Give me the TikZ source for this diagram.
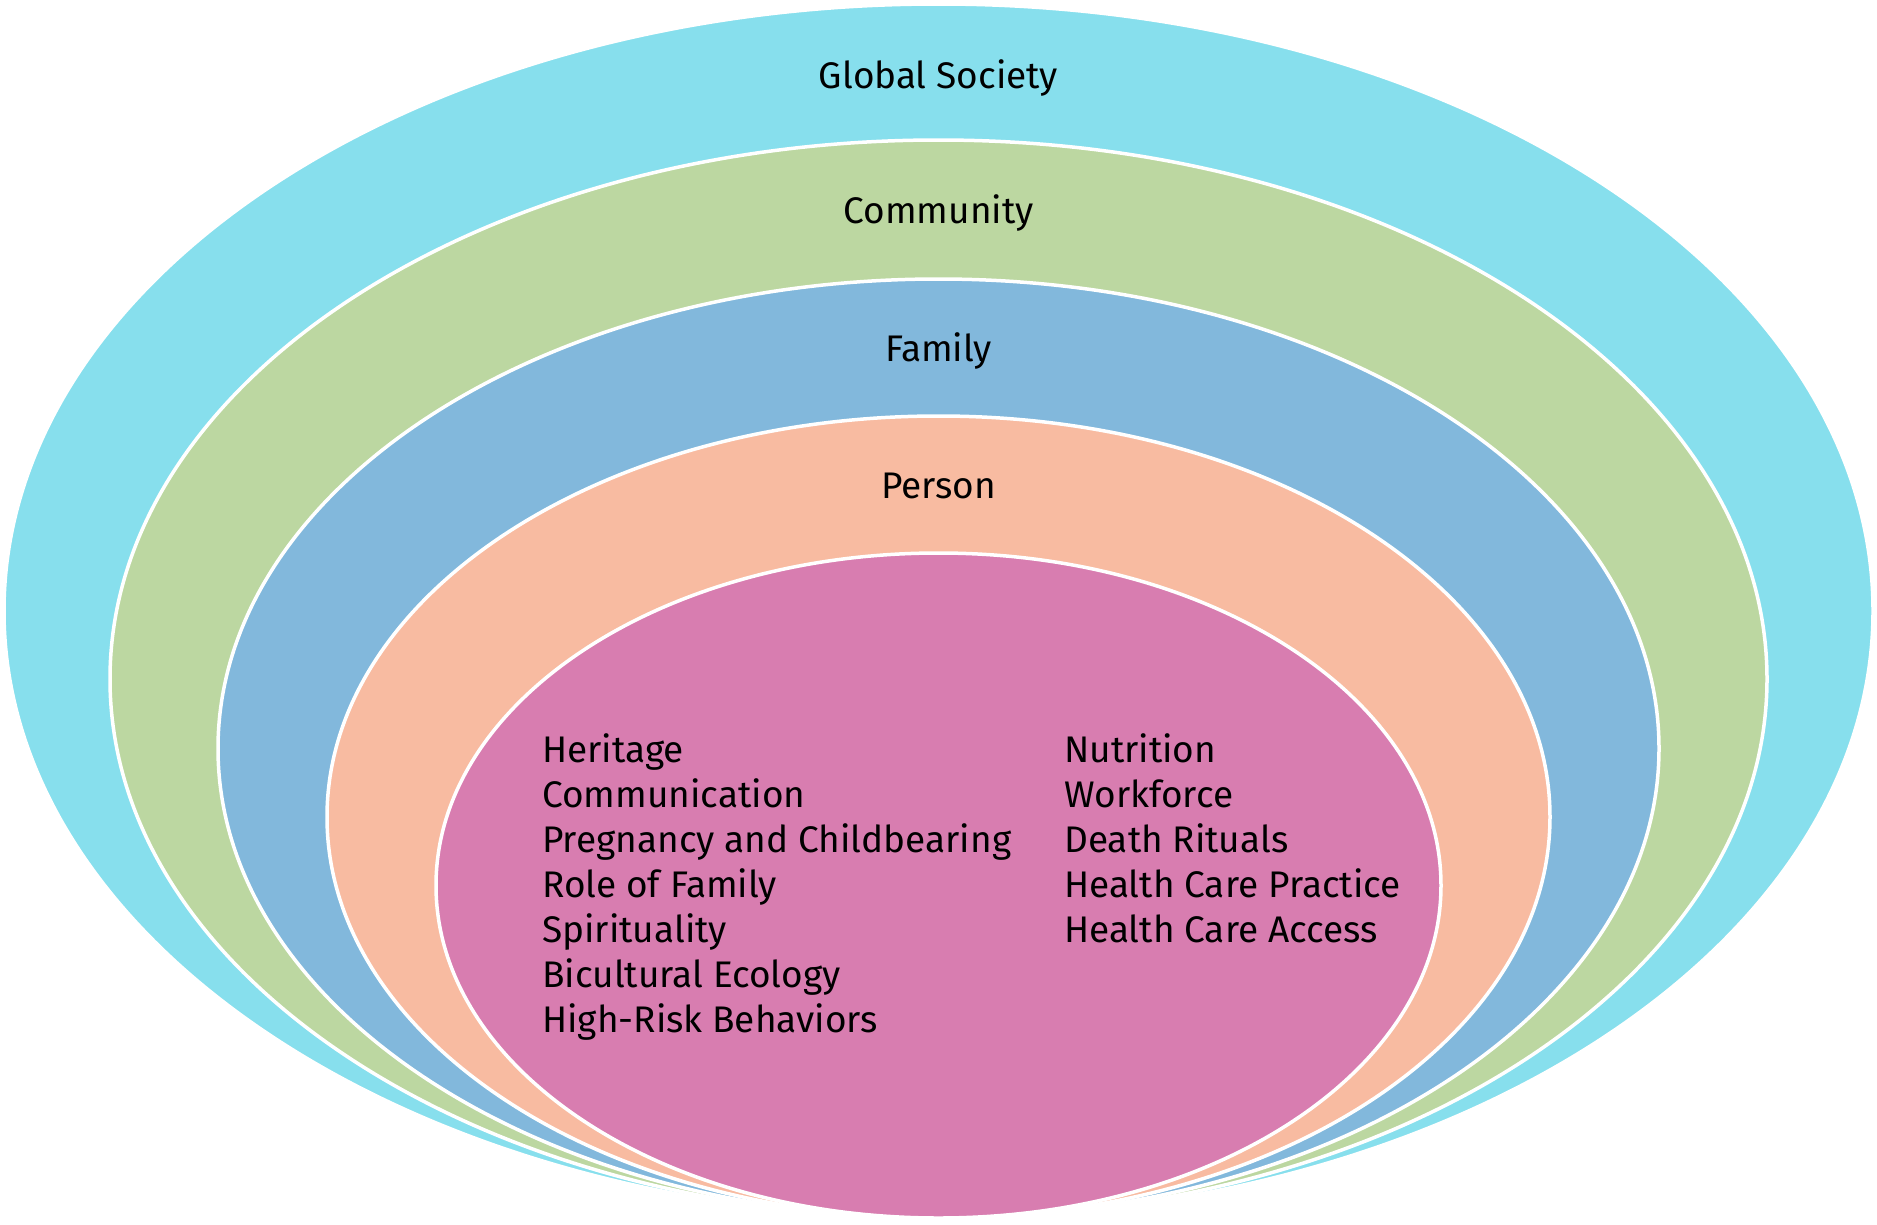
\documentclass[tikz,border=0pt]{standalone}
\usepackage{fontspec}
\setmainfont{Fira Sans}
\definecolor{cglobal}{RGB}{135,223,237}
\definecolor{ccomm}{RGB}{188,215,161}
\definecolor{cfam}{RGB}{130,184,220}
\definecolor{cpers}{RGB}{248,187,161}
\definecolor{cinner}{RGB}{216,125,176}
\tikzset{
  ring/.style={draw=white, line width=3.5pt},
  lbl/.style={anchor=base, inner sep=0pt, font=\fontsize{37}{44}\selectfont},
  item/.style={anchor=base west, inner sep=0pt, font=\fontsize{37}{44}\selectfont}
}
\begin{document}
\begin{tikzpicture}[x=1pt,y=-1pt]
\useasboundingbox (0,0) rectangle (1877,1224);
\path[ring, fill=cglobal] (938.5,611) ellipse [x radius=934.5, y radius=607];
\path[ring, fill=ccomm] (938.5,679) ellipse [x radius=828.5, y radius=539];
\path[ring, fill=cfam] (938.5,748.5) ellipse [x radius=720.5, y radius=469.5];
\path[ring, fill=cpers] (938.5,817) ellipse [x radius=611.5, y radius=401];
\path[ring, fill=cinner] (938.5,885.5) ellipse [x radius=502.5, y radius=332.5];
\node[lbl] (global) at (938.5,88) {Global Society};
\node[lbl] (community) at (938.5,223) {Community};
\node[lbl] (family) at (938.5,361) {Family};
\node[lbl] (person) at (938.5,498) {Person};
\foreach \t [count=\i] in {Heritage,Communication,Pregnancy and Childbearing,Role of Family,Spirituality,Bicultural Ecology,High-Risk Behaviors}
  \node[item] (L\i) at (542,{762+45.1*(\i-1)}) {\t};
\foreach \t [count=\i] in {Nutrition,Workforce,Death Rituals,Health Care Practice,Health Care Access}
  \node[item] (R\i) at (1064,{762+45.1*(\i-1)}) {\t};
\end{tikzpicture}
\end{document}
